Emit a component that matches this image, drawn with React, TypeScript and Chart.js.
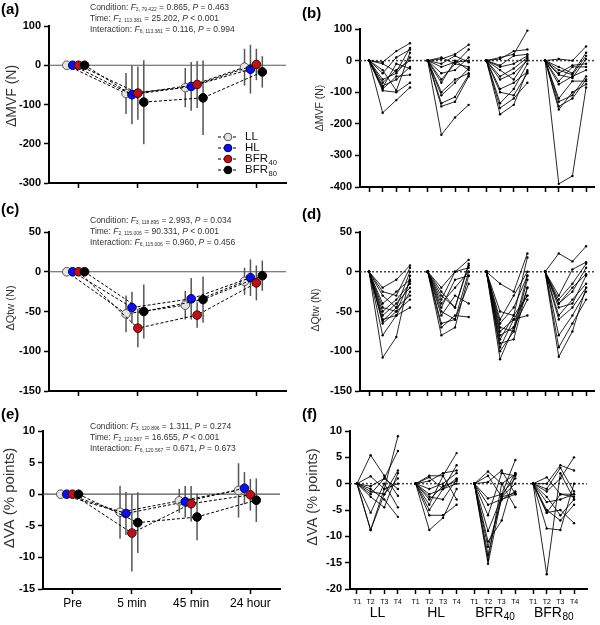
import React, { useEffect, useRef } from "react";
import { Chart, registerables } from "chart.js";

Chart.register(...registerables);

const FONT = "'Liberation Sans', Arial, Helvetica, sans-serif";

// ---------- categories & labels ----------
const timePoints = ["Pre", "5 min", "45 min", "24 hour"];
const conditions = ["LL", "HL", "BFR40", "BFR80"];
const trials = ["T1", "T2", "T3", "T4"];

// ---------- (a) ΔMVF group means ± SD ----------
const mvfMeanLL = [0, -72, -57, -5];
const mvfMeanHL = [0, -75, -54, -10];
const mvfMeanBFR40 = [0, -71, -49, 2];
const mvfMeanBFR80 = [0, -94, -83, -17];
const mvfSdLL = [0, 52, 50, 47];
const mvfSdHL = [0, 75, 62, 62];
const mvfSdBFR40 = [0, 68, 60, 40];
const mvfSdBFR80 = [0, 107, 95, 40];

// ---------- (c) ΔQtw group means ± SD ----------
const qtwMeanLL = [0, -53, -42, -12];
const qtwMeanHL = [0, -45, -34, -7.5];
const qtwMeanBFR40 = [0, -71, -54.5, -14];
const qtwMeanBFR80 = [0, -50, -35, -5];
const qtwSdLL = [0, 23, 18, 17];
const qtwSdHL = [0, 20, 26, 23];
const qtwSdBFR40 = [0, 24, 16, 22];
const qtwSdBFR80 = [0, 34, 29, 19];

// ---------- (e) ΔVA group means ± SD ----------
const vaMeanLL = [0, -2.85, -1.05, 0.6];
const vaMeanHL = [0, -3.05, -1.2, 0.95];
const vaMeanBFR40 = [0, -6.15, -1.5, -0.1];
const vaMeanBFR80 = [0, -4.5, -3.6, -0.95];
const vaSdLL = [0, 4.2, 1.9, 4.3];
const vaSdHL = [0, 3.4, 2.5, 2.55];
const vaSdBFR40 = [0, 6.1, 2.8, 2.5];
const vaSdBFR80 = [0, 4.8, 3.7, 3.45];

// ---------- (b) ΔMVF individual responses (T1..T4) ----------
const mvfLL = [
  [0, -5, 30, 55], [0, -10, -35, 40], [0, -40, 10, 35], [0, -60, -40, 10],
  [0, -70, -30, 0], [0, -85, -10, -25], [0, -90, -50, -45], [0, -165, -125, -85],
  [0, -95, -100, -70], [0, -80, -60, -20], [0, -30, -95, 25],
];
const mvfHL = [
  [0, 5, 20, 50], [0, 10, -10, 35], [0, -10, 15, -5], [0, -20, -5, 0],
  [0, -60, -10, -20], [0, -70, 0, -30], [0, -100, -60, -40], [0, -135, -115, -45],
  [0, -145, -130, -50], [0, -235, -180, -140], [0, -40, -30, 10], [0, -110, -70, -25],
];
const mvfBFR40 = [
  [0, 10, 20, 95], [0, 5, 30, 35], [0, -15, 15, 20], [0, -20, -10, 15],
  [0, -50, -25, 10], [0, -60, -40, 0], [0, -90, -70, -35], [0, -100, -110, -40],
  [0, -150, -120, -70], [0, -170, -140, -30], [0, -135, -90, -10], [0, -30, -60, 5],
];
const mvfBFR80 = [
  [0, 5, 0, 45], [0, -20, -40, 25], [0, -30, -45, 15], [0, -45, -55, 5],
  [0, -65, -20, -20], [0, -75, -50, -30], [0, -130, -110, -50], [0, -145, -120, -60],
  [0, -155, -100, -75], [0, -390, -365, -85], [0, -40, -15, -10], [0, -120, -65, -65],
];

// ---------- (d) ΔQtw individual responses ----------
const qtwLL = [
  [0, -20, -10, 8], [0, -25, -30, 5], [0, -30, -45, 0], [0, -40, -25, -10],
  [0, -45, -50, -12], [0, -50, -35, -15], [0, -55, -40, -20], [0, -60, -55, -25],
  [0, -62, -45, -30], [0, -65, -50, -35], [0, -80, -55, -45], [0, -108, -82, -5],
];
const qtwHL = [
  [0, -20, 0, 15], [0, -30, -45, 8], [0, -35, 0, 5], [0, -40, -20, 0],
  [0, -45, -10, -5], [0, -50, -60, -15], [0, -55, -30, -40], [0, -65, -60, 0],
  [0, -70, -55, -57], [0, -80, -70, -5], [0, -25, -45, 10],
];
const qtwBFR40 = [
  [0, -15, -25, 23], [0, -50, -55, 18], [0, -60, -30, 0], [0, -65, -45, -5],
  [0, -70, -75, -20], [0, -75, -60, -30], [0, -80, -70, -35], [0, -85, -55, -30],
  [0, -90, -85, -20], [0, -95, -60, -55], [0, -100, -75, -10], [0, -110, -70, -5],
];
const qtwBFR80 = [
  [0, 23, 13, 32], [0, -30, 3, 12], [0, -35, -15, 10], [0, -40, -25, 5],
  [0, -45, -40, -5], [0, -55, -35, -15], [0, -60, -45, -20], [0, -80, -55, -25],
  [0, -95, -65, -35], [0, -107, -75, -20], [0, -40, -20, -3],
];

// ---------- (f) ΔVA individual responses ----------
const vaLL = [
  [0, 5.4, 1.5, -2.3], [0, 1.4, -1, 9], [0, -0.5, 1, 6.2], [0, -1.5, -2, 2.5],
  [0, -2.5, -4.5, 2], [0, -8.8, -2, 1], [0, -5.5, 0, -4.5], [0, -1, -3, -6.3],
  [0, -2, 1, -1], [0, -8.8, -1, 0],
];
const vaHL = [
  [0, 1.5, 1.5, 5.8], [0, 1.2, -1, 3.5], [0, 0.5, 2, 2.5], [0, -1, 0, 2],
  [0, -2, -1, 1], [0, -3, -0.5, 0.5], [0, -4, 1.5, -3], [0, -5, -1, 0],
  [0, -6, -6, -4], [0, -8.8, -6.5, -1], [0, -2.5, -3, 0.8],
];
const vaBFR40 = [
  [0, 2.3, 0, -4.5], [0, 1.5, -2.5, 2], [0, 0.3, 2.5, -2], [0, -2.8, -2, 4.5],
  [0, -4, -3, -1.5], [0, -6, 2, 1.5], [0, -9, -2.5, 0], [0, -11, -7, 2],
  [0, -12, -3, -2], [0, -13.5, -2, 1], [0, -14.5, 0, 1.8], [0, -15.2, -2.5, -1.8],
];
const vaBFR80 = [
  [0, 1.2, -2, -2.5], [0, 0, 3.5, 2.5], [0, -1, 3, -1.5], [0, -1.5, 1, 5],
  [0, -2.5, -6, -3], [0, -3.5, -3, -2], [0, -5, -7, -4], [0, -5.5, -5, -7.5],
  [0, -8.5, -8.8, 0], [0, -17.2, 2, -3], [0, -5.5, -2, -2],
];

// ---------- styling ----------
const SERIES_OFFSET = [-0.2, -0.1, 0, 0.1];
const MARKER_FILL = ["#e4e4e4", "#1010e0", "#b5141c", "#000000"];
const MARKER_EDGE = ["#555555", "#00006a", "#4a0000", "#000000"];
const GROUP_STEP = 4.3;

const GRID = {
  display: true,
  drawOnChartArea: false,
  drawTicks: true,
  tickLength: 5,
  tickWidth: 1.5,
  tickColor: "#000",
};
const BORDER = { display: true, color: "#000", width: 2 };

type Box = { yW: number; xH: number; top: number; right: number };

function drawSubText(ctx: CanvasRenderingContext2D, name: string, x: number, y: number, size: number, align: "left" | "center", color: string, subRatio = 0.72) {
  const m = name.match(/^([A-Za-z]+)(\d*)$/);
  const main = m ? m[1] : name;
  const sub = m ? m[2] : "";
  const subSize = size * subRatio;
  ctx.save();
  ctx.fillStyle = color;
  ctx.textBaseline = "middle";
  ctx.textAlign = "left";
  ctx.font = `${size}px ${FONT}`;
  const w1 = ctx.measureText(main).width;
  ctx.font = `${subSize}px ${FONT}`;
  const w2 = sub ? ctx.measureText(sub).width : 0;
  const x0 = align === "center" ? x - (w1 + w2) / 2 : x;
  ctx.font = `${size}px ${FONT}`;
  ctx.fillText(main, x0, y);
  if (sub) {
    ctx.font = `${subSize}px ${FONT}`;
    ctx.fillText(sub, x0 + w1 + 0.5, y + size * 0.3);
  }
  ctx.restore();
}

function xAxis(min: number, max: number, positions: number[], label: ((i: number) => string) | null, fontSize: number, pad: number, h: number) {
  return {
    type: "linear",
    min,
    max,
    afterBuildTicks: (s: any) => {
      s.ticks = positions.map((v) => ({ value: v }));
    },
    ticks: {
      display: !!label,
      autoSkip: false,
      maxRotation: 0,
      minRotation: 0,
      padding: pad,
      color: "#000",
      font: { family: FONT, size: fontSize },
      callback: (_v: any, i: number) => (label ? label(i) : ""),
    },
    grid: GRID,
    border: BORDER,
    afterFit: (s: any) => {
      s.height = h;
    },
  };
}

function yAxis(min: number, max: number, step: number, w: number) {
  return {
    type: "linear",
    min,
    max,
    ticks: { stepSize: step, color: "#000", padding: 3, font: { family: FONT, size: 11, weight: "bold" } },
    grid: GRID,
    border: BORDER,
    afterFit: (s: any) => {
      s.width = w;
    },
  };
}

const zeroLine = (dash: number[], color: string, width: number) => ({
  id: "zeroLine",
  beforeDatasetsDraw(chart: any) {
    const { ctx, chartArea } = chart;
    const y = chart.scales.y.getPixelForValue(0);
    ctx.save();
    ctx.setLineDash(dash);
    ctx.strokeStyle = color;
    ctx.lineWidth = width;
    ctx.beginPath();
    ctx.moveTo(chartArea.left, y);
    ctx.lineTo(chartArea.right, y);
    ctx.stroke();
    ctx.restore();
  },
});

const errorBars = (sds: number[][]) => ({
  id: "errorBars",
  beforeDatasetsDraw(chart: any) {
    const ctx = chart.ctx;
    const ys = chart.scales.y;
    ctx.save();
    ctx.strokeStyle = "#555";
    ctx.lineWidth = 1.5;
    chart.data.datasets.forEach((ds: any, di: number) => {
      const meta = chart.getDatasetMeta(di);
      meta.data.forEach((pt: any, i: number) => {
        const s = sds[di][i];
        if (!s) return;
        const m = ds.data[i].y;
        ctx.beginPath();
        ctx.moveTo(pt.x, ys.getPixelForValue(m + s));
        ctx.lineTo(pt.x, ys.getPixelForValue(m - s));
        ctx.stroke();
      });
    });
    ctx.restore();
  },
});

const yTitle = (text: string, cx: number, cy: number, size: number, color: string) => ({
  id: "yTitle",
  afterDraw(chart: any) {
    const ctx = chart.ctx;
    ctx.save();
    ctx.translate(cx, cy);
    ctx.rotate(-Math.PI / 2);
    ctx.font = `${size}px ${FONT}`;
    ctx.fillStyle = color;
    ctx.textAlign = "center";
    ctx.textBaseline = "middle";
    ctx.fillText(text, 0, 0);
    ctx.restore();
  },
});

const meanLegend = (x: number, y0: number, step: number) => ({
  id: "meanLegend",
  afterDraw(chart: any) {
    const ctx = chart.ctx;
    conditions.forEach((name, ci) => {
      const y = y0 + ci * step;
      ctx.save();
      ctx.strokeStyle = "#000";
      ctx.lineWidth = 1;
      ctx.setLineDash([3, 2]);
      ctx.beginPath();
      ctx.moveTo(x, y);
      ctx.lineTo(x + 20, y);
      ctx.stroke();
      ctx.setLineDash([]);
      ctx.beginPath();
      ctx.arc(x + 10, y, 3.8, 0, Math.PI * 2);
      ctx.fillStyle = MARKER_FILL[ci];
      ctx.fill();
      ctx.strokeStyle = MARKER_EDGE[ci];
      ctx.stroke();
      ctx.restore();
      drawSubText(ctx, name, x + 27, y, 11.5, "left", "#111", 0.66);
    });
  },
});

const groupLabels = (dy: number, size: number) => ({
  id: "groupLabels",
  afterDraw(chart: any) {
    const xs = chart.scales.x;
    conditions.forEach((name, g) => {
      drawSubText(chart.ctx, name, xs.getPixelForValue(g * GROUP_STEP + 1.5), chart.chartArea.bottom + dy, size, "center", "#000");
    });
  },
});

function meanChart(means: number[][], sds: number[][], yMin: number, yMax: number, yStep: number, showX: boolean, box: Box, extra: any[]): any {
  return {
    type: "line",
    data: {
      datasets: means.map((m, ci) => ({
        label: conditions[ci],
        data: m.map((y, ti) => ({ x: ti + SERIES_OFFSET[ci], y })),
        borderColor: "#000",
        borderWidth: 1,
        borderDash: [3, 2],
        pointRadius: 4.3,
        pointBackgroundColor: MARKER_FILL[ci],
        pointBorderColor: MARKER_EDGE[ci],
        pointBorderWidth: 1,
        tension: 0,
        fill: false,
        order: 4 - ci,
      })),
    },
    options: {
      responsive: false,
      animation: false,
      events: [],
      layout: { padding: { left: 0, top: box.top, right: box.right, bottom: 0 } },
      plugins: { legend: { display: false }, tooltip: { enabled: false } },
      scales: {
        x: xAxis(-0.5, 3.5, [0, 1, 2, 3], showX ? (i) => timePoints[i] : null, 12, 2, box.xH),
        y: yAxis(yMin, yMax, yStep, box.yW),
      },
    },
    plugins: [zeroLine([], "#555", 1.2), errorBars(sds), ...extra],
  };
}

function subjectChart(groups: number[][][], yMin: number, yMax: number, yStep: number, xMin: number, xMax: number, showX: boolean, box: Box, extra: any[]): any {
  const datasets: any[] = [];
  groups.forEach((subjects, g) =>
    subjects.forEach((vals) =>
      datasets.push({
        data: vals.map((y, t) => ({ x: g * GROUP_STEP + t, y })),
        borderColor: "#000",
        borderWidth: 0.85,
        pointRadius: 1.2,
        pointBackgroundColor: "#000",
        pointBorderWidth: 0,
        tension: 0,
        fill: false,
      })
    )
  );
  const positions = groups.flatMap((_, g) => trials.map((_t, t) => g * GROUP_STEP + t));
  return {
    type: "line",
    data: { datasets },
    options: {
      responsive: false,
      animation: false,
      events: [],
      layout: { padding: { left: 0, top: box.top, right: box.right, bottom: 0 } },
      plugins: { legend: { display: false }, tooltip: { enabled: false } },
      scales: {
        x: xAxis(xMin, xMax, positions, showX ? (i) => trials[i % 4] : null, 7, 4, box.xH),
        y: yAxis(yMin, yMax, yStep, box.yW),
      },
    },
    plugins: [zeroLine([2, 2], "#444", 1.5), ...extra],
  };
}

function ChartPanel({ left, top, width, height, make }: { left: number; top: number; width: number; height: number; make: () => any }) {
  const ref = useRef<HTMLCanvasElement>(null);
  useEffect(() => {
    const chart = new Chart(ref.current as HTMLCanvasElement, make());
    return () => chart.destroy();
  }, []);
  return <canvas ref={ref} width={width} height={height} style={{ position: "absolute", left, top, width, height }} />;
}

function PanelLabel({ text, left, top }: { text: string; left: number; top: number }) {
  return (
    <div style={{ position: "absolute", left, top, font: `bold 15px ${FONT}`, lineHeight: "15px", color: "#000" }}>{text}</div>
  );
}

const subStyle: React.CSSProperties = { fontSize: "5px", verticalAlign: "-1px", lineHeight: 0 };

function Stats({ left, top, cond, time, inter }: { left: number; top: number; cond: string[]; time: string[]; inter: string[] }) {
  const row = (lab: string, v: string[], sign: string) => (
    <div style={{ height: 11, lineHeight: "11px", whiteSpace: "nowrap" }}>
      {lab}: <i>F</i>
      <span style={subStyle}>{v[0]}</span> = {v[1]}, <i>P</i> {sign} {v[2]}
    </div>
  );
  return (
    <div style={{ position: "absolute", left, top, font: `8.5px ${FONT}`, color: "#333" }}>
      {row("Condition", cond, "=")}
      {row("Time", time, time[2] === "0.001" ? "<" : "=")}
      {row("Interaction", inter, "=")}
    </div>
  );
}

export default function App() {
  return (
    <div style={{ position: "absolute", left: 0, top: 0, width: 600, height: 625, background: "#fff", overflow: "hidden" }}>
      <ChartPanel
        left={0} top={0} width={300} height={200}
        make={() =>
          meanChart(
            [mvfMeanLL, mvfMeanHL, mvfMeanBFR40, mvfMeanBFR80],
            [mvfSdLL, mvfSdHL, mvfSdBFR40, mvfSdBFR80],
            -300, 100, 100, false,
            { yW: 49, xH: 17, top: 26, right: 14 },
            [yTitle("ΔMVF (N)", 12, 96, 14, "#333"), meanLegend(218, 137, 11)]
          )
        }
      />
      <ChartPanel
        left={300} top={0} width={300} height={200}
        make={() =>
          subjectChart([mvfLL, mvfHL, mvfBFR40, mvfBFR80], -400, 100, 100, -0.66, 16.48, false,
            { yW: 60, xH: 13, top: 29, right: 6 },
            [yTitle("ΔMVF (N)", 20, 108, 10.5, "#333")])
        }
      />
      <ChartPanel
        left={0} top={200} width={300} height={210}
        make={() =>
          meanChart(
            [qtwMeanLL, qtwMeanHL, qtwMeanBFR40, qtwMeanBFR80],
            [qtwSdLL, qtwSdHL, qtwSdBFR40, qtwSdBFR80],
            -150, 50, 50, false,
            { yW: 49, xH: 19, top: 32, right: 14 },
            [yTitle("ΔQtw (N)", 11, 108, 11, "#333")]
          )
        }
      />
      <ChartPanel
        left={300} top={200} width={300} height={210}
        make={() =>
          subjectChart([qtwLL, qtwHL, qtwBFR40, qtwBFR80], -150, 50, 50, -0.66, 16.48, false,
            { yW: 60, xH: 19, top: 32, right: 6 },
            [yTitle("ΔQtw (N)", 16, 110, 10.5, "#333")])
        }
      />
      <ChartPanel
        left={0} top={410} width={300} height={215}
        make={() =>
          meanChart(
            [vaMeanLL, vaMeanHL, vaMeanBFR40, vaMeanBFR80],
            [vaSdLL, vaSdHL, vaSdBFR40, vaSdBFR80],
            -15, 10, 5, true,
            { yW: 43, xH: 36, top: 21, right: 20 },
            [yTitle("ΔVA (% points)", 10, 88, 15, "#333")]
          )
        }
      />
      <ChartPanel
        left={300} top={410} width={300} height={215}
        make={() =>
          subjectChart([vaLL, vaHL, vaBFR40, vaBFR80], -20, 10, 5, -0.51, 16.85, true,
            { yW: 50, xH: 36, top: 21, right: 13 },
            [yTitle("ΔVA (% points)", 13, 87, 14.5, "#333"), groupLabels(24, 14)])
        }
      />

      <PanelLabel text="(a)" left={1} top={1} />
      <PanelLabel text="(b)" left={302} top={5} />
      <PanelLabel text="(c)" left={1} top={201} />
      <PanelLabel text="(d)" left={302} top={206} />
      <PanelLabel text="(e)" left={1} top={406} />
      <PanelLabel text="(f)" left={302} top={406} />

      <Stats left={90} top={2} cond={["3, 79.422", "0.865", "0.463"]} time={["2, 113.381", "25.202", "0.001"]} inter={["6, 113.381", "0.116", "0.994"]} />
      <Stats left={90} top={215} cond={["3, 118.895", "2.993", "0.034"]} time={["2, 115.006", "90.331", "0.001"]} inter={["6, 115.006", "0.960", "0.456"]} />
      <Stats left={90} top={421} cond={["3, 120.896", "1.311", "0.274"]} time={["2, 120.567", "16.655", "0.001"]} inter={["6, 120.567", "0.671", "0.673"]} />
    </div>
  );
}
